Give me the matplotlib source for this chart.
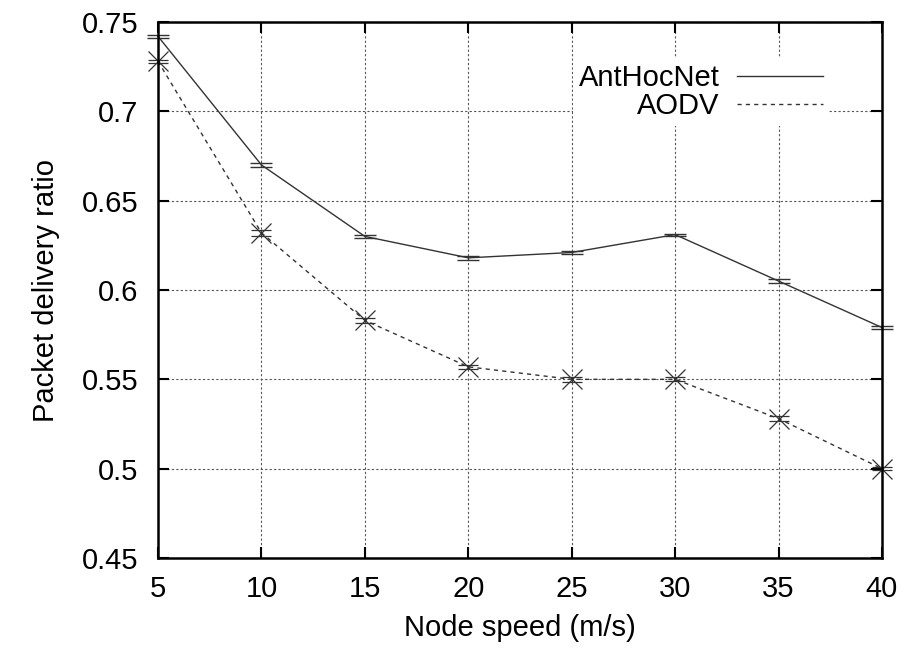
import matplotlib
matplotlib.use('Agg')
import matplotlib.pyplot as plt
from matplotlib.lines import Line2D

speed = [5, 10, 15, 20, 25, 30, 35, 40]
anthocnet = [0.742, 0.670, 0.630, 0.618, 0.621, 0.631, 0.605, 0.579]
anthocnet_err = [0.0008, 0.0012, 0.0010, 0.0012, 0.0006, 0.0006, 0.0010, 0.0006]
aodv = [0.728, 0.632, 0.583, 0.557, 0.550, 0.550, 0.528, 0.500]
aodv_err = [0.0010, 0.0015, 0.0015, 0.0012, 0.0015, 0.0012, 0.0015, 0.0010]

plt.rcParams['font.family'] = ['Liberation Sans', 'DejaVu Sans']
plt.rcParams['font.size'] = 21

fig = plt.figure(figsize=(9.05, 6.5), dpi=100)
ax = fig.add_axes([158 / 905, 1 - 558 / 650, (882 - 158) / 905, (558 - 22) / 650])

ax.errorbar(speed, anthocnet, yerr=anthocnet_err, color='#333333', lw=1,
            capsize=8, elinewidth=1, clip_on=False)
ax.errorbar(speed, aodv, yerr=aodv_err, color='#333333', lw=1, ls=(0, (3, 3)),
            marker='x', ms=14, mew=0.9, capsize=7, elinewidth=1, clip_on=False)

ax.set_xlim(5, 40)
ax.set_ylim(0.45, 0.75)
ax.set_xticks(speed)
ax.set_yticks([0.45, 0.5, 0.55, 0.6, 0.65, 0.7, 0.75])
ax.set_yticklabels(['0.45', '0.5', '0.55', '0.6', '0.65', '0.7', '0.75'])
ax.grid(True, ls=(0, (2, 2)), color='#555555', lw=0.8)
ax.tick_params(direction='in', length=8, width=1.5, top=True, right=True)
ax.tick_params(axis='y', pad=14)
ax.tick_params(axis='x', pad=12)
for s in ax.spines.values():
    s.set_linewidth(1.8)

ax.set_xlabel('Node speed (m/s)', labelpad=8)
ax.set_ylabel('Packet delivery ratio', labelpad=16)

handles = [Line2D([], [], color='#333333', lw=1),
           Line2D([], [], color='#333333', lw=1, ls=(0, (3, 3)))]
leg = fig.legend(handles, ['AntHocNet', 'AODV'], loc='upper right',
                 bbox_to_anchor=(829 / 905, 1 - 58 / 650), markerfirst=False,
                 frameon=True, fancybox=False, handlelength=2.95, handletextpad=0.6,
                 labelspacing=0.02, borderpad=0.2, borderaxespad=0)
leg.get_frame().set_edgecolor('none')
leg.get_frame().set_facecolor('white')
leg.get_frame().set_alpha(1)

fig.savefig('out.png', dpi=100)
